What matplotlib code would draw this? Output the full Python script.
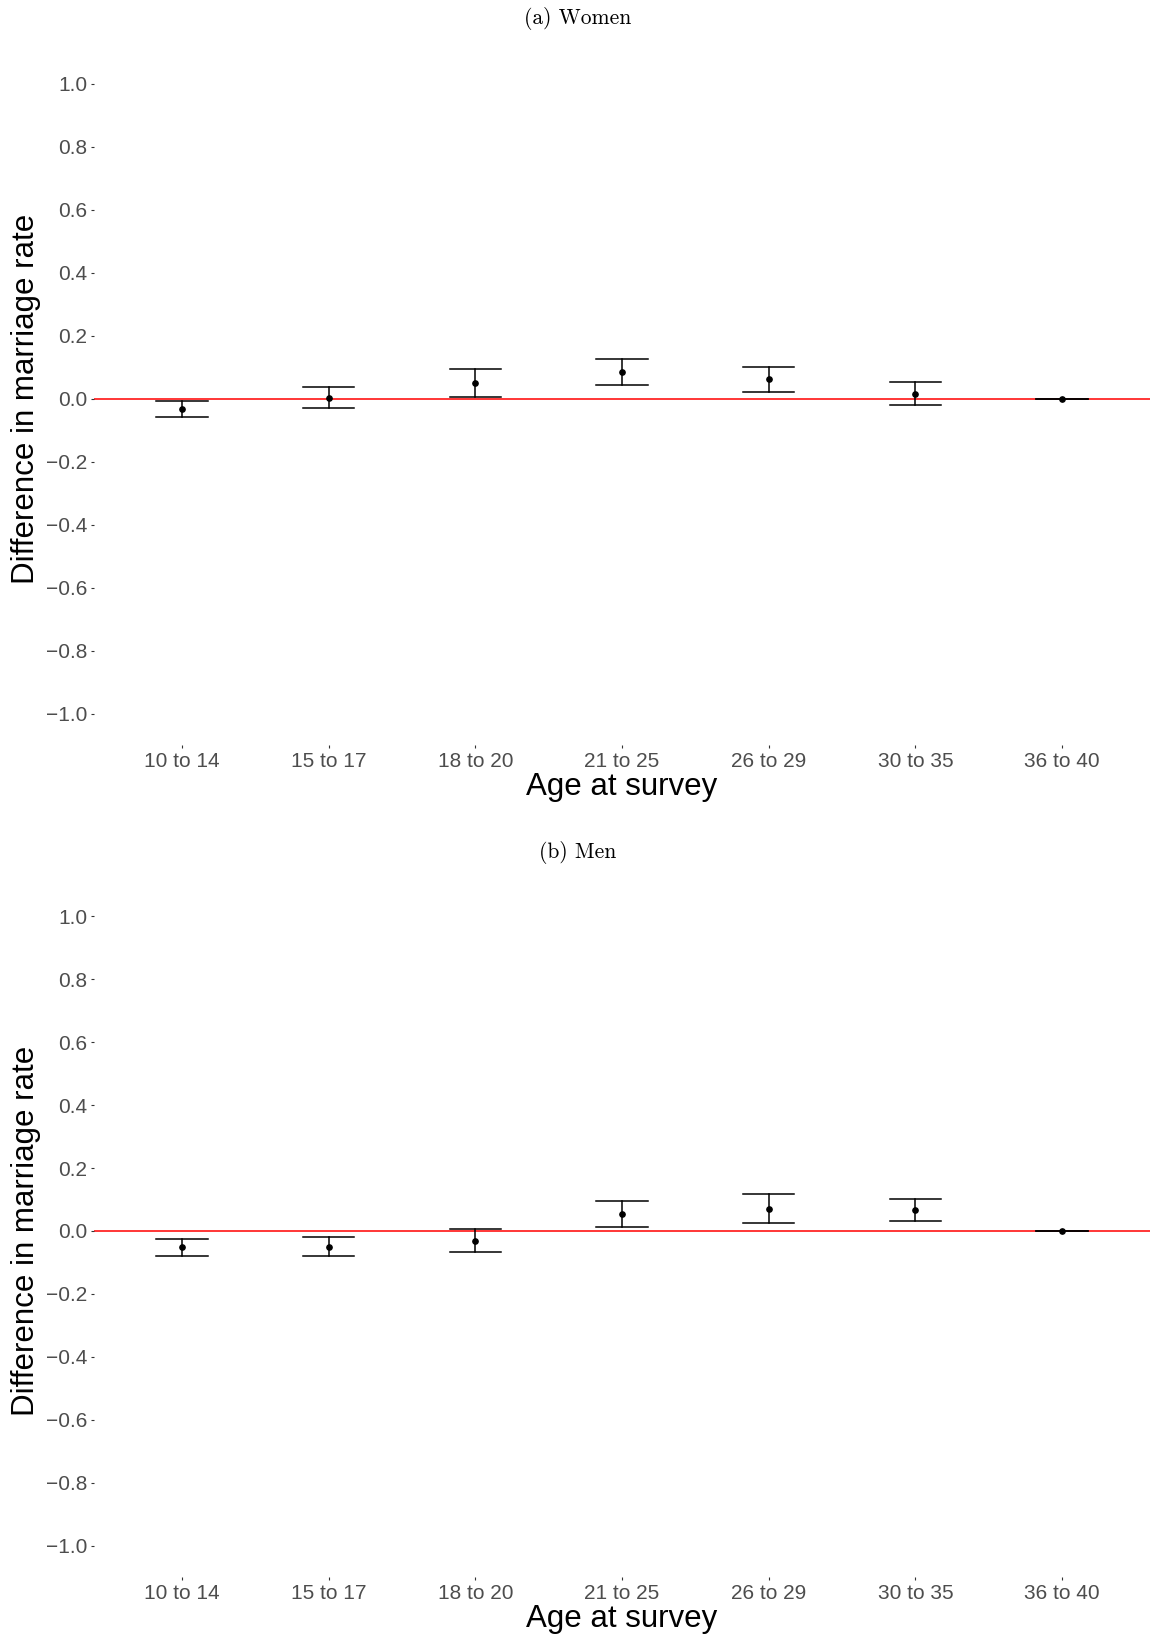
import matplotlib
matplotlib.use("Agg")
import matplotlib.pyplot as plt

# data
ages = ["10 to 14", "15 to 17", "18 to 20", "21 to 25", "26 to 29", "30 to 35", "36 to 40"]

women_est = [-0.033, 0.003, 0.050, 0.084, 0.061, 0.014, 0.0]
women_lo = [-0.058, -0.030, 0.005, 0.043, 0.021, -0.022, 0.0]
women_hi = [-0.008, 0.035, 0.094, 0.124, 0.101, 0.051, 0.0]

men_est = [-0.052, -0.050, -0.031, 0.055, 0.071, 0.066, 0.0]
men_lo = [-0.079, -0.078, -0.067, 0.013, 0.027, 0.032, 0.0]
men_hi = [-0.024, -0.020, 0.006, 0.096, 0.117, 0.103, 0.0]

yticks = [-1.0, -0.8, -0.6, -0.4, -0.2, 0.0, 0.2, 0.4, 0.6, 0.8, 1.0]

plt.rcParams['font.family'] = ['Liberation Sans', 'DejaVu Sans']

W, H = 1150, 1641
fig = plt.figure(figsize=(W / 100, H / 100), dpi=100)


def panel(rect, est, lo, hi, title, title_y):
    ax = fig.add_axes(rect)
    x = list(range(1, len(ages) + 1))
    ax.axhline(0, color="red", lw=1.1, zorder=1)
    cap = 0.175
    for xi, e, l, h in zip(x, est, lo, hi):
        ax.plot([xi, xi], [l, h], color="black", lw=1.1, zorder=2)
        ax.plot([xi - cap, xi + cap], [l, l], color="black", lw=1.1, zorder=2)
        ax.plot([xi - cap, xi + cap], [h, h], color="black", lw=1.1, zorder=2)
    ax.plot(x, est, "o", color="black", ms=3.8, zorder=3)

    ax.set_xlim(0.4, len(ages) + 0.6)
    ax.set_ylim(-1.1, 1.1)
    ax.set_xticks(x)
    ax.set_xticklabels(ages)
    ax.set_yticks(yticks)
    ax.set_yticklabels([f"{v:.1f}".replace("-", "\u2212") for v in yticks])
    for s in ax.spines.values():
        s.set_visible(False)
    ax.tick_params(axis="both", colors="#333333", labelcolor="#4d4d4d",
                   labelsize=15, length=2.2, width=0.8, pad=2.5)

    ax.set_xlabel("Age at survey", fontsize=22.5, color="black")
    ax.xaxis.set_label_coords(0.5, -0.061)
    ax.xaxis.label.set_va("center")
    ax.set_ylabel("Difference in marriage rate", fontsize=22.5, color="black")
    ax.yaxis.set_label_coords(-0.064, 0.5)
    ax.yaxis.label.set_va("center")

    fig.text(578 / W, 1 - title_y / H, title, family="cmr10", fontsize=15.5,
             ha="center", va="center")
    return ax


panel([94 / W, 1 - 745 / H, 1056 / W, 693 / H],
      women_est, women_lo, women_hi, "(a) Women", 19)
panel([94 / W, 1 - 1577 / H, 1056 / W, 692 / H],
      men_est, men_lo, men_hi, "(b) Men", 853)

fig.savefig("out.png", dpi=100, facecolor="white")
